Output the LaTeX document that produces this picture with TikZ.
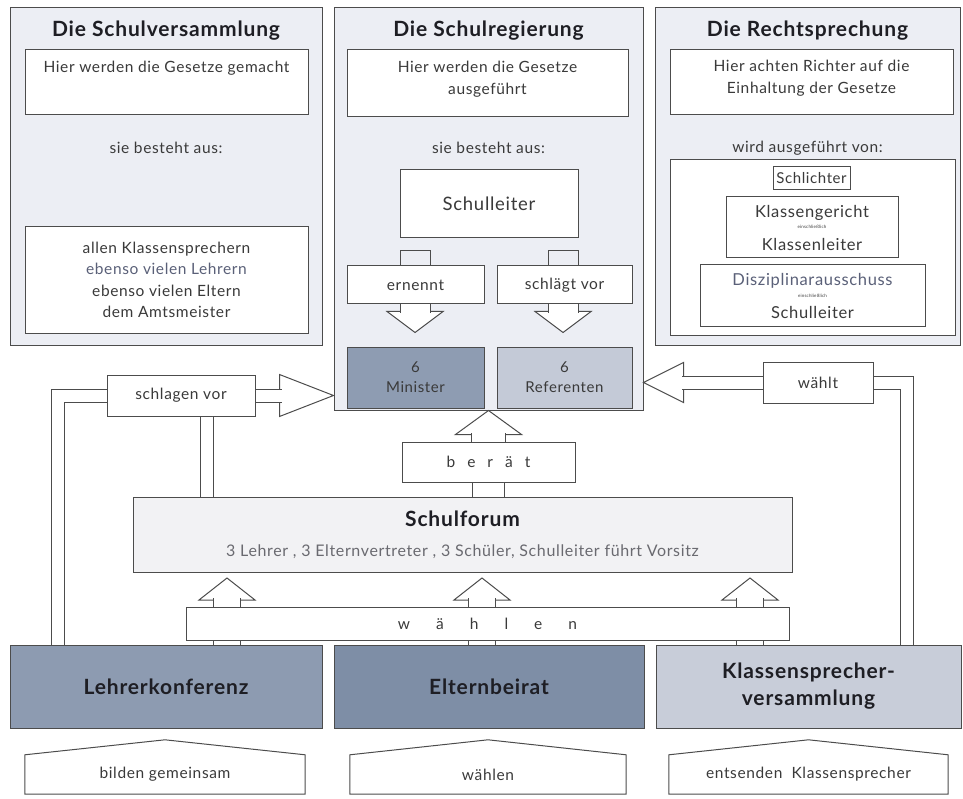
\documentclass[tikz,border=0pt]{standalone}
\usepackage{fontspec}
\setmainfont{Lato}[LetterSpace=4]
\usetikzlibrary{calc,positioning}

\definecolor{lc}{HTML}{4C4C4C}
\definecolor{panelbg}{HTML}{ECEEF4}
\definecolor{txtgray}{HTML}{3A3A3A}
\definecolor{txtblue}{HTML}{5A6078}
\definecolor{ttl}{HTML}{1E1E24}
\definecolor{subgray}{HTML}{6A6A70}
\definecolor{forumbg}{HTML}{F2F2F4}
\definecolor{minfill}{HTML}{8E9CB2}
\definecolor{reffill}{HTML}{C4CAD7}
\definecolor{lkfill}{HTML}{8D9BB1}
\definecolor{ebfill}{HTML}{7E8EA6}
\definecolor{ksfill}{HTML}{C8CDD9}

\newcommand\bodysize{\fontsize{15.5}{21.5}\selectfont}
\newcommand\titlesize{\fontsize{21}{24}\selectfont}

\begin{document}
\begin{tikzpicture} [
    x = 1pt, y = -1pt,
    line/.style       = {draw=lc, line width=1pt},
    box/.style 2 args = {line, fill=white,
                         minimum width=#1,
                         minimum height=#2,
                         inner sep=0pt,
                         align=center,
                         font=\bodysize,
                         text=txtgray},
    panel/.style 2 args = {box={#1}{#2}, fill=panelbg},
    council/.style 2 args = {box={#1}{#2},
                         font=\fontsize{21}{27}\selectfont\bfseries,
                         text=ttl},
    house/.style 2 args = {minimum width=#1,
                         minimum height=#2,
                         inner sep=0pt,
                         font=\fontsize{15.5}{18}\selectfont,
                         text=txtgray},
    title/.style      = {font=\titlesize\bfseries, text=ttl, inner sep=0pt},
    lbl/.style        = {font=\bodysize, text=txtgray, align=center, inner sep=0pt},
    shaft/.style      = {line, double=white, double distance=#1},
    head/.style       = {line, fill=white}
]
\useasboundingbox (0,0) rectangle (963,799);

% the three powers
\node (sv)  [panel={312pt}{337pt}] at (166,176.5) {};
\node (reg) [panel={309pt}{402pt}] at (488.5,209) {};
\node (rs)  [panel={305pt}{337pt}] at (807.5,176.5) {};

\node (svtit)  [title] at (166,31)   {Die Schulversammlung};
\node (regtit) [title] at (488.5,31) {Die Schulregierung};
\node (rstit)  [title] at (807.5,31) {Die Rechtsprechung};

% Schulversammlung
\node (svb1) [box={283pt}{65pt}] at (166.5,82.5) {};
\node (svt1) [lbl] at (166.5,68) {Hier werden die Gesetze gemacht};
\node (svt2) [lbl] at (166,148) {sie besteht aus:};
\node (svb2) [box={283pt}{106pt}] at (166.5,280) {
allen Klassensprechern \\
{\color{txtblue}ebenso vielen Lehrern} \\
ebenso vielen Eltern \\
dem Amtsmeister
};

% Schulregierung
\node (regb1) [box={281pt}{67pt}] at (487.5,83.5) {};
\node (regt1) [lbl] at (487.5,79) {Hier werden die Gesetze \\ ausgeführt};
\node (regt2) [lbl] at (488.5,148) {sie besteht aus:};
\node (sl) [box={178pt}{68pt}, font=\fontsize{18.5}{20}\selectfont] at (489,204) {Schulleiter};
\node (en) [box={137pt}{38pt}] at (415.5,285) {ernennt};
\node (sr) [box={135pt}{38pt}, right=12pt of en] {schlägt vor};
\node (mi) [box={137pt}{61pt}, fill=minfill, font=\fontsize{15}{20}\selectfont] at (415.5,377.5) {6 \\ Minister};
\node (rf) [box={135pt}{61pt}, fill=reffill, font=\fontsize{15}{20}\selectfont, right=12pt of mi] {6 \\ Referenten};

% Rechtsprechung
\node (rsb1) [box={283pt}{65pt}] at (811.5,82.5) {};
\node (rst1) [lbl] at (811.5,78) {Hier achten Richter auf die \\ Einhaltung der Gesetze};
\node (rst2) [lbl] at (807.5,148) {wird ausgeführt von:};
\node (rsb2) [box={285pt}{175pt}] at (812.5,247.5) {};
\node (sch) [box={77pt}{23pt}, font=\fontsize{15}{17}\selectfont] at (811.5,178.5) {Schlichter};
\node (kg) [box={172pt}{61pt}, font=\fontsize{16.5}{16.5}\selectfont] at (812,227.5) {
Klassengericht \\[-5pt]
{\fontsize{4.5}{5}\selectfont einschließlich} \\[5pt]
Klassenleiter
};
\node (da) [box={225pt}{62pt}, font=\fontsize{16.5}{16.5}\selectfont] at (812.5,296) {
{\color{txtblue}Disziplinarausschuss} \\[-5pt]
{\fontsize{4.5}{5}\selectfont einschließlich} \\[5pt]
Schulleiter
};

% Schulleiter -> ernennt / schlaegt vor -> Minister / Referenten
\coordinate (s1) at (415,0);
\coordinate (s2) at (563,0);
\draw[line] ($(en.north -| s1)+(-15,0)$) |- ++(30,-15) -- ++(0,15);
\draw[line] ($(sr.north -| s2)+(-15,0)$) |- ++(30,-15) -- ++(0,15);
\draw[head] ($(mi.north -| s1)+(0,-14)$) -- ++(-28,-21) -- ++(56,0) -- cycle;
\draw[shaft=29pt] (en.south -| s1) -- ($(mi.north -| s1)+(0,-33)$);
\draw[head] ($(rf.north -| s2)+(0,-14)$) -- ++(-28,-21) -- ++(56,0) -- cycle;
\draw[shaft=29pt] (sr.south -| s2) -- ($(rf.north -| s2)+(0,-33)$);

% lower part
\node (svo) [box={148pt}{41pt}] at (181,395.5) {schlagen vor};
\node (wt)  [box={110pt}{41pt}] at (818,382.5) {wählt};
\node (bt)  [box={173pt}{40pt}] at (488.5,462)
    {b\hspace{12pt}e\hspace{12pt}r\hspace{12pt}ä\hspace{12pt}t};
\node (sf)  [box={659pt}{75pt}, fill=forumbg, font=\fontsize{16}{30}\selectfont] at (462.5,535)
    {{\fontsize{21}{22}\selectfont\bfseries\color{ttl}Schulforum} \\
     {\color{subgray}3 Lehrer , 3 Elternvertreter , 3 Schüler, Schulleiter führt Vorsitz}};

\node (lk) [council={312pt}{83pt}, fill=lkfill] at (166,686.5) {Lehrerkonferenz};
\node (eb) [council={310pt}{83pt}, fill=ebfill] at (489,686.5) {Elternbeirat};
\node (ks) [council={305pt}{83pt}, fill=ksfill] at (808.5,686.5) {Klassensprecher- \\ versammlung};

% berät
\draw[head] (reg.south) -- ++(-33,24) -- ++(66,0) -- cycle;
\draw[shaft=33pt] (bt.north) -- ($(reg.south)+(0,22)$);
\draw[shaft=31pt] (bt.south) -- (sf.north -| bt.south);

% Lehrerkonferenz -> schlagen vor
\coordinate (lft) at (57.5,0);
\coordinate (svd) at (206.5,0);
\draw[shaft=12pt] (lk.north -| lft) |- (svo.west);
\draw[head] (reg.west |- svo.east) -- ++(-54,-21) -- ++(0,42) -- cycle;
\draw[shaft=12pt] (svo.east) -- ($(reg.west |- svo.east)+(-52,0)$);
\draw[shaft=12pt] (svo.south -| svd) -- (sf.north -| svd);

% Klassensprecherversammlung -> wählt
\coordinate (rgt) at (906.5,0);
\draw[shaft=12pt] (ks.north -| rgt) |- (wt.east);
\draw[head] (reg.east |- wt.west) -- ++(40,-20) -- ++(0,40) -- cycle;
\draw[shaft=12pt] (wt.west) -- ($(reg.east |- wt.west)+(38,0)$);

% wählen
\coordinate (w1) at (227,0);
\coordinate (w2) at (482,0);
\coordinate (w3) at (750,0);
\draw[head] ($(sf.south -| w1)+(0,5)$) -- ++(-28,22) -- ++(56,0) -- cycle;
\draw[shaft=26pt] (lk.north -| w1) -- ($(sf.south -| w1)+(0,25)$);
\draw[head] ($(sf.south -| w2)+(0,5)$) -- ++(-28,22) -- ++(56,0) -- cycle;
\draw[shaft=26pt] (eb.north -| w2) -- ($(sf.south -| w2)+(0,25)$);
\draw[head] ($(sf.south -| w3)+(0,5)$) -- ++(-28,22) -- ++(56,0) -- cycle;
\draw[shaft=26pt] (ks.north -| w3) -- ($(sf.south -| w3)+(0,25)$);
\node (wa) [box={603pt}{33pt}] at (487.5,623.5)
    {w\hspace{26pt}ä\hspace{26pt}h\hspace{26pt}l\hspace{26pt}e\hspace{26pt}n};

% bottom row
\node (hs1) [house={280pt}{39pt}] at (165,774.5) {bilden gemeinsam};
\node (hs2) [house={276pt}{39pt}] at (488,774.5) {wählen};
\node (hs3) [house={279pt}{39pt}] at (808.5,774.5) {entsenden\ \ Klassensprecher};
\draw[line] (hs1.south west) -- (hs1.north west) -- ($(hs1.north)+(0,-15)$) -- (hs1.north east) -- (hs1.south east) -- cycle;
\draw[line] (hs2.south west) -- (hs2.north west) -- ($(hs2.north)+(0,-15)$) -- (hs2.north east) -- (hs2.south east) -- cycle;
\draw[line] (hs3.south west) -- (hs3.north west) -- ($(hs3.north)+(0,-15)$) -- (hs3.north east) -- (hs3.south east) -- cycle;
\end{tikzpicture}
\end{document}
